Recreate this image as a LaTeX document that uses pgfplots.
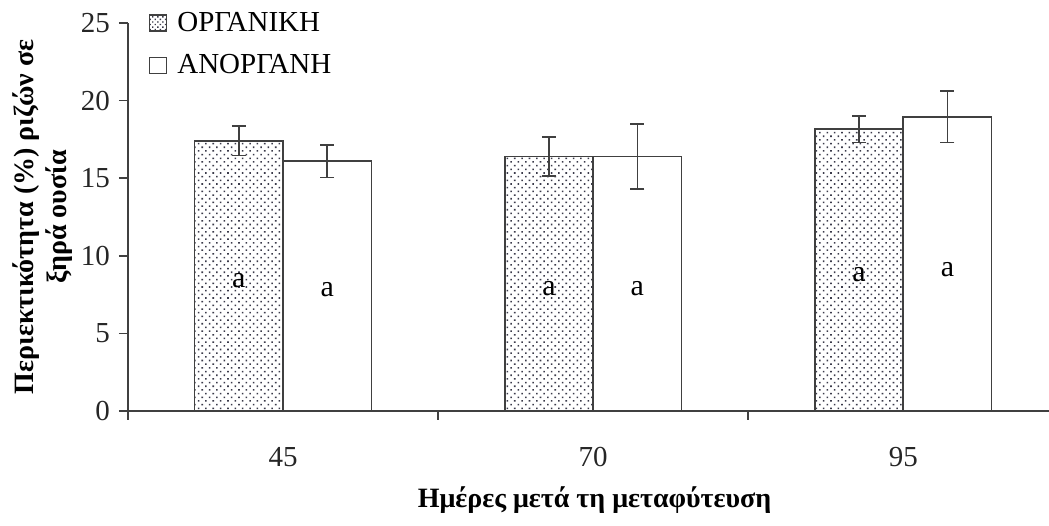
\documentclass[border=0pt]{standalone}
\usepackage{fontspec}
\setmainfont{Liberation Serif}
\usepackage{pgfplots}
\pgfplotsset{compat=1.18}
\usetikzlibrary{patterns.meta}
\definecolor{axgray}{HTML}{404040}
\definecolor{dotcol}{HTML}{3A3A4A}

\pgfplotstableread{
x y e
0 17.4 0.95
1 16.4 1.25
2 18.15 0.85
}\organic
\pgfplotstableread{
x y e
0 16.1 1.05
1 16.4 2.1
2 18.95 1.65
}\inorganic

\begin{document}
\begin{tikzpicture}
\begin{axis}[
  name=ax,
  scale only axis, width=460.5pt, height=194pt,
  ymin=0, ymax=25, ytick={0,5,...,25},
  xmin=-0.5, xmax=2.47,
  xtick={0,1,2}, xticklabels={45,70,95},
  minor xtick={-0.5,0.5,1.5},
  major x tick style={draw=none},
  axis lines*=left,
  axis line style={axgray, line width=0.8pt},
  tick style={axgray, line width=0.8pt},
  tick align=outside,
  major tick length=4.5pt, minor tick length=4.5pt,
  /pgf/number format/assume math mode=true,
  tick label style={font=\fontsize{14.5}{17}\selectfont, text=black!85},
  xticklabel style={yshift=-10pt},
  yticklabel style={xshift=-1pt},
  ylabel={Περιεκτικότητα (\%) ριζών σε\\ξηρά ουσία},
  ylabel style={font=\bfseries\fontsize{14}{16.5}\selectfont, align=center,
    at={(axis description cs:-0.0925,0.5)}, anchor=center},
  xlabel={Ημέρες μετά τη μεταφύτευση},
  xlabel style={font=\bfseries\fontsize{14}{16}\selectfont,
    at={(axis description cs:0.5,0)}, anchor=center, yshift=-44.5pt, xshift=3pt},
  ybar=0pt, bar width=0.285,
  legend style={draw=none, fill=none, at={(rel axis cs:0.02,1.045)}, anchor=north west,
    font=\fontsize{14.5}{17}\selectfont, row sep=6pt, inner sep=1pt},
  legend cell align=left,
  clip=false,
]
\addplot[draw=axgray, line width=0.8pt,
  pattern={Dots[distance=2.6pt, radius=0.55pt, angle=45]}, pattern color=dotcol,
  legend image code/.code={\draw[pattern={Dots[distance=1.8pt, radius=0.5pt, angle=45]}, pattern color=dotcol, draw=axgray, line width=0.7pt] (0pt,-4pt) rectangle (8.5pt,4pt); \path (11.5pt,0pt);},
  error bars/.cd, y dir=both, y explicit,
  error bar style={line width=0.8pt, draw=axgray},
  error mark options={rotate=90, mark size=3.5pt, line width=0.8pt, draw=axgray},
  ]
  table[x=x, y=y, y error=e]{\organic};
\addlegendentry{ΟΡΓΑΝΙΚΗ}
\addplot[draw=axgray, line width=0.8pt, fill=white,
  legend image code/.code={\draw[fill=white, draw=axgray, line width=0.7pt] (0pt,-4pt) rectangle (8.5pt,4pt); \path (11.5pt,0pt);},
  error bars/.cd, y dir=both, y explicit,
  error bar style={line width=0.8pt, draw=axgray},
  error mark options={rotate=90, mark size=3.5pt, line width=0.8pt, draw=axgray},
  ]
  table[x=x, y=y, y error=e]{\inorganic};
\addlegendentry{ΑΝΟΡΓΑΝΗ}
\node[font=\fontsize{15}{17}\selectfont] at (axis cs:-0.1425,8.4) {a};
\node[font=\fontsize{15}{17}\selectfont] at (axis cs:0.1425,7.8) {a};
\node[font=\fontsize{15}{17}\selectfont] at (axis cs:0.8575,7.9) {a};
\node[font=\fontsize{15}{17}\selectfont] at (axis cs:1.1425,7.9) {a};
\node[font=\fontsize{15}{17}\selectfont] at (axis cs:1.8575,8.8) {a};
\node[font=\fontsize{15}{17}\selectfont] at (axis cs:2.1425,9.1) {a};
\end{axis}
\pgfresetboundingbox
\path ([xshift=-64pt,yshift=-57.5pt]ax.south west) rectangle ([yshift=11.5pt]ax.north east);
\end{tikzpicture}
\end{document}
